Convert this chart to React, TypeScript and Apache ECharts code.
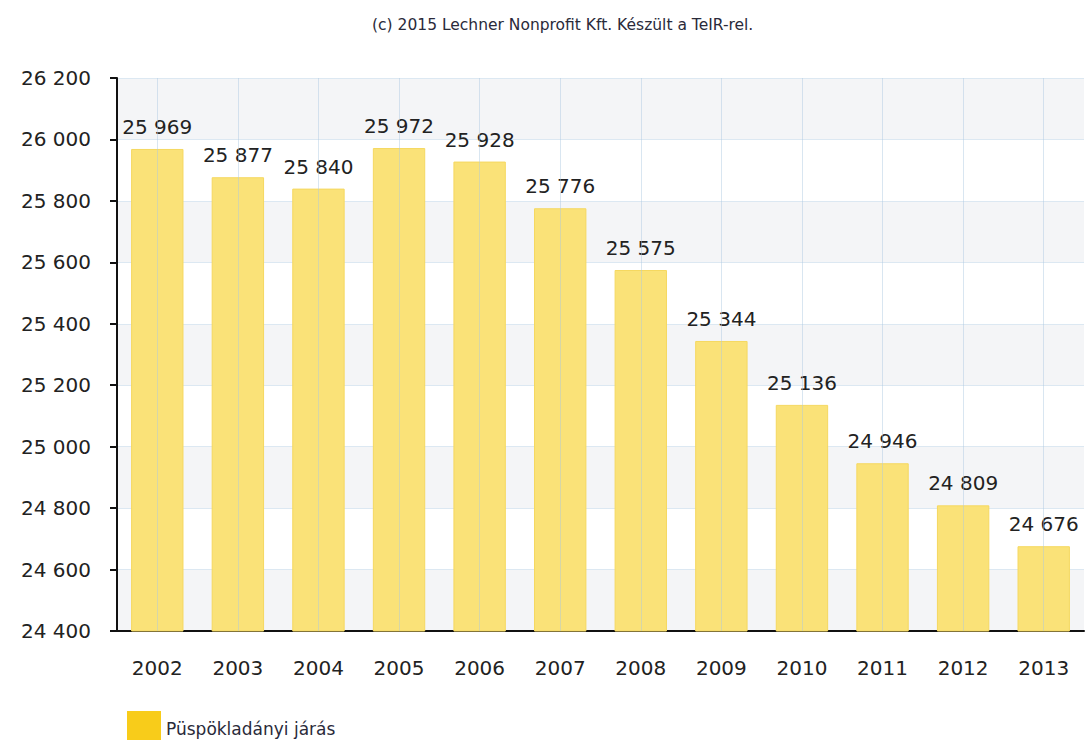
import React, { useEffect, useRef } from "react";
import * as echarts from "echarts";

const years = ["2002", "2003", "2004", "2005", "2006", "2007", "2008", "2009", "2010", "2011", "2012", "2013"];
const population = [25969, 25877, 25840, 25972, 25928, 25776, 25575, 25344, 25136, 24946, 24809, 24676];
const seriesName = "Püspökladányi járás";
const titleText = "(c) 2015 Lechner Nonprofit Kft. Készült a TeIR-rel.";
const yMin = 24400;
const yMax = 26200;
const yStep = 200;

const fmt = (v: number) => String(v).replace(/\B(?=(\d{3})+(?!\d))/g, " ");

export default function App() {
  const ref = useRef<HTMLDivElement>(null);
  useEffect(() => {
    document.body.style.margin = "0";
    const chart = echarts.init(ref.current!, undefined, { renderer: "svg" });
    const font = "'DejaVu Sans', Verdana, sans-serif";
    chart.setOption({
      animation: false,
      backgroundColor: "#ffffff",
      title: {
        text: titleText,
        left: 367,
        top: 12,
        textStyle: { fontFamily: font, fontSize: 15.5, fontWeight: "normal", color: "#2a2a3a" },
      },
      legend: {
        left: 122,
        top: 706,
        itemWidth: 34,
        itemHeight: 36,
        itemGap: 10,
        icon: "rect",
        data: [seriesName],
        itemStyle: { color: "#f8cc1a", opacity: 1, borderWidth: 0 },
        textStyle: { fontFamily: font, fontSize: 17, color: "#2a2a3a", padding: [0, 0, 6, 0] },
      },
      grid: { left: 117, right: 3, top: 78, bottom: 109 },
      xAxis: {
        type: "category",
        data: years,
        axisLine: { lineStyle: { color: "#111", width: 2 } },
        axisTick: { alignWithLabel: true, length: 9, lineStyle: { color: "#111", width: 2 } },
        axisLabel: { fontFamily: font, fontSize: 20, color: "#222", margin: 27 },
        splitLine: { show: false },
      },
      yAxis: {
        type: "value",
        min: yMin,
        max: yMax,
        interval: yStep,
        axisLine: { show: true, lineStyle: { color: "#111", width: 2 } },
        axisTick: { show: true, length: 7, lineStyle: { color: "#111", width: 2 } },
        axisLabel: { fontFamily: font, fontSize: 20, color: "#222", margin: 26, formatter: (v: number) => fmt(v) },
        splitLine: { show: true, lineStyle: { color: "#dce8f2", width: 1 } },
        splitArea: { show: true, areaStyle: { color: ["#f4f5f7", "#ffffff"] } },
      },
      series: [
        {
          name: seriesName,
          type: "bar",
          data: population,
          barWidth: "65%",
          itemStyle: { color: "#fae278", borderColor: "#f5d860", borderWidth: 1 },
          label: {
            show: true,
            position: "top",
            distance: 12,
            fontFamily: font,
            fontSize: 20,
            color: "#222",
            formatter: (p: any) => fmt(p.value),
          },
          markLine: {
            silent: true,
            symbol: "none",
            label: { show: false },
            lineStyle: { color: "rgba(170,200,225,0.45)", width: 1, type: "solid" },
            data: years.map((y) => ({ xAxis: y })),
          },
        },
      ],
    });
    return () => chart.dispose();
  }, []);
  return <div ref={ref} style={{ width: 1087, height: 740 }} />;
}
